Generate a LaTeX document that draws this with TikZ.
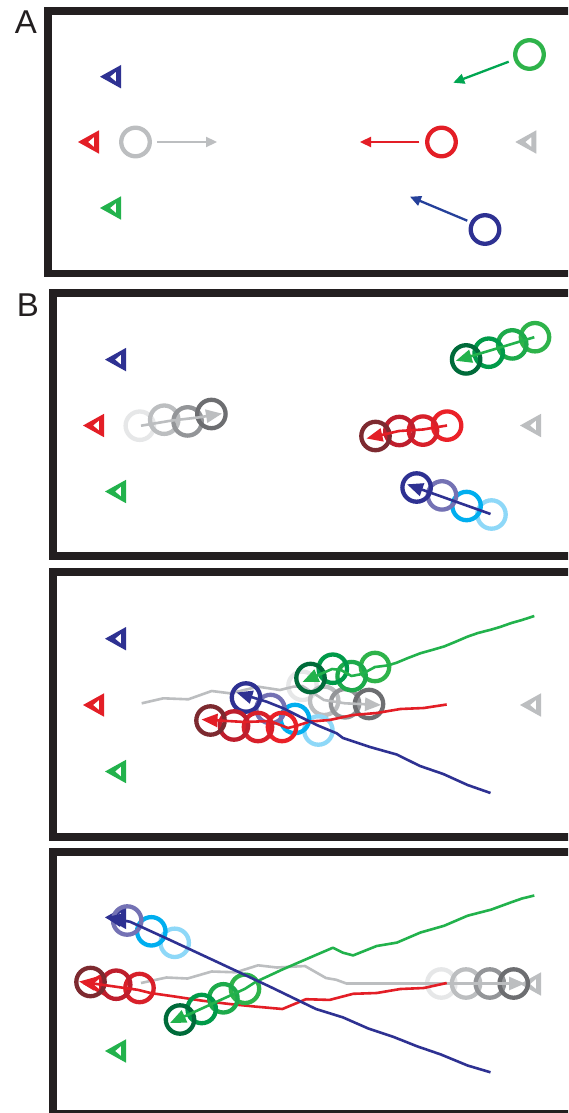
\documentclass[tikz,border=0pt]{standalone}
\usepackage{fontspec}
\setmainfont{Liberation Sans}
\usetikzlibrary{arrows.meta}
\definecolor{frameC}{HTML}{231F20}
\definecolor{navy}{HTML}{2E3192}
\definecolor{blueArr}{HTML}{25409A}
\definecolor{purp}{HTML}{7472B4}
\definecolor{cyanC}{HTML}{00AEEF}
\definecolor{ltblue}{HTML}{8ED8F8}
\definecolor{maroon}{HTML}{7D2A30}
\definecolor{redB}{HTML}{BE1E2D}
\definecolor{redC}{HTML}{D8202A}
\definecolor{redD}{HTML}{EB2128}
\definecolor{redL}{HTML}{E31E26}
\definecolor{grnA}{HTML}{006B3A}
\definecolor{grnB}{HTML}{009A49}
\definecolor{grnC}{HTML}{1DAA4B}
\definecolor{grnD}{HTML}{2EB34A}
\definecolor{grnArr}{HTML}{00A651}
\definecolor{grnS}{HTML}{22B24C}
\definecolor{gryA}{HTML}{E6E7E8}
\definecolor{gryB}{HTML}{BCBEC0}
\definecolor{gryC}{HTML}{939598}
\definecolor{gryD}{HTML}{6D6E71}
\newcommand\sens[3]{\begin{scope}[shift={(#1,#2)}]\fill[#3,even odd rule] (0,0) -- (21,-11.7) -- (21,11.7) -- cycle (10,0) -- (16,-5) -- (16,5) -- cycle;\end{scope}}
\tikzset{
  frame/.style={line width=7.5pt, draw=frameC},
  ring/.style={line width=4.3pt},
  trk/.style={line width=2.3pt, line join=round},
  arA/.style={line width=2.3pt, -{Triangle[length=11pt,width=10pt]}},
  arB/.style={line width=2.6pt, line join=round, -{Triangle[length=16pt,width=13pt]}},
  lbl/.style={font=\fontsize{33}{33}\selectfont, inner sep=0pt, anchor=base, text=frameC}
}
\begin{document}
\begin{tikzpicture}[x=1pt,y=-1pt]
\useasboundingbox (0,0) rectangle (568,1113);
\clip (0,0) rectangle (568,1113);
\fill[white] (0,0) rectangle (568,1113);

% labels
\node[lbl] (labA) at (26,33.3) {A};
\node[lbl] (labB) at (28,316.7) {B};

% frames
\draw[frame] (48,11) rectangle (640,273.7);
\draw[frame] (53,293) rectangle (640,556);
\draw[frame] (53,572) rectangle (640,837);
\draw[frame] (53,852) rectangle (640,1114);

% ---------------- Panel A
\sens{100}{76.7}{navy}
\sens{78}{142}{redL}
\sens{100}{208}{grnS}
\sens{515.3}{142}{gryB}
\draw[ring,gryB] (135.5,142) circle[radius=14.3pt];
\draw[arA,gryB] (157,142) -- (217,142);
\draw[ring,grnD] (529.5,54.5) circle[radius=14.3pt];
\draw[arA,grnArr] (508.7,61.7) -- (453.3,82.7);
\draw[ring,redL] (441.5,142) circle[radius=14.3pt];
\draw[arA,redL] (419.3,142) -- (360,142);
\draw[ring,navy] (485,229.5) circle[radius=14.3pt];
\draw[arA,blueArr] (467.3,220.7) -- (410,196.7);

% ---------------- Panel B1
\sens{105}{359.6}{navy}
\sens{83}{425.5}{redL}
\sens{105}{491.5}{grnS}
\sens{520}{425.5}{gryB}
% gray
\draw[ring,gryA] (139.8,425.7) circle[radius=14.2pt];
\draw[ring,gryB] (164.2,419.7) circle[radius=14.2pt];
\draw[ring,gryC] (187.6,421.4) circle[radius=14.2pt];
\draw[ring,gryD] (211.4,414) circle[radius=14.2pt];
\draw[arB,gryB] (141,425.7) -- (172,420.5) -- (198,417.5) -- (222,413.6);
% green
\draw[ring,grnD] (535,337.2) circle[radius=14.2pt];
\draw[ring,grnC] (512.2,344.4) circle[radius=14.2pt];
\draw[ring,grnB] (488.7,352.7) circle[radius=14.2pt];
\draw[ring,grnA] (466.1,359.4) circle[radius=14.2pt];
\draw[arB,grnS] (534.3,337.2) -- (455.8,360.8);
% red
\draw[ring,redD] (447.1,425.6) circle[radius=14.2pt];
\draw[ring,redC] (423,430.6) circle[radius=14.2pt];
\draw[ring,redB] (399.4,431) circle[radius=14.2pt];
\draw[ring,maroon] (375.5,436) circle[radius=14.2pt];
\draw[arB,redL] (447,425.5) -- (423,429.5) -- (399,431) -- (366.5,438.5);
% blue
\draw[ring,ltblue] (491.5,514.5) circle[radius=14.2pt];
\draw[ring,cyanC] (466.6,506) circle[radius=14.2pt];
\draw[ring,purp] (442,495.4) circle[radius=14.2pt];
\draw[ring,navy] (416.6,487.5) circle[radius=14.2pt];
\draw[arB,navy] (490.5,514) -- (407,484.3);

% ---------------- Panel B2
\sens{105}{638.7}{navy}
\sens{83}{705}{redL}
\sens{105}{771.5}{grnS}
\sens{520}{705}{gryB}
% gray
\draw[ring,gryA] (302.5,685.8) circle[radius=14.2pt];
\draw[ring,gryB] (324.2,700.8) circle[radius=14.2pt];
\draw[ring,gryC] (345,703.3) circle[radius=14.2pt];
\draw[ring,gryD] (369,704) circle[radius=14.2pt];
\draw[arB,gryB] (141.7,703.3) -- (163.3,698.3) -- (188.3,699.3) -- (211.7,691) -- (230,693.3) -- (258.3,686.7) -- (280,690) -- (293.3,686.7) -- (302.5,686) -- (324,700) -- (345,703.3) -- (381,705);
% green
\draw[ring,grnD] (375,667) circle[radius=14.2pt];
\draw[ring,grnC] (351.6,676.1) circle[radius=14.2pt];
\draw[ring,grnB] (332.8,668.7) circle[radius=14.2pt];
\draw[ring,grnA] (310.5,678) circle[radius=14.2pt];
\draw[arB,grnS] (534.3,616) -- (522,620) -- (511.4,623) -- (500,627) -- (491.2,629.6) -- (478,633) -- (467.6,636.6) -- (455,642) -- (444,646.5) -- (432,650) -- (420.5,653.2) -- (408,658) -- (396.9,662.6) -- (388.5,665.3) -- (375,667) -- (362,674) -- (351.5,676) -- (341,670) -- (332,669) -- (302.5,682);
% blue circles
\draw[ring,ltblue] (318.4,730.5) circle[radius=14.2pt];
\draw[ring,cyanC] (295,719) circle[radius=14.2pt];
\draw[ring,purp] (270.5,709) circle[radius=14.2pt];
\draw[ring,navy] (246,697.5) circle[radius=14.2pt];
% red
\draw[ring,redD] (282,727) circle[radius=14.2pt];
\draw[ring,redC] (258,727) circle[radius=14.2pt];
\draw[ring,redB] (234,725.5) circle[radius=14.2pt];
\draw[ring,maroon] (210.5,720.5) circle[radius=14.2pt];
\draw[arB,redL] (446.7,704.5) -- (423.8,708) -- (400.3,709) -- (376.7,713) -- (353,715) -- (329.6,720) -- (309.4,721.6) -- (296,726) -- (288,728) -- (270,721) -- (245,722) -- (201.5,719.5);
% blue line
\draw[arB,navy] (490.5,793) -- (467.6,785) -- (443.3,774) -- (420,766) -- (396.7,754.5) -- (370,747) -- (343,738) -- (336.7,733.3) -- (316.7,725) -- (300,716.7) -- (283.3,708.3) -- (266.7,701.7) -- (236.5,692.5);

% ---------------- Panel B3
\sens{105}{917.4}{navy}
\sens{83}{984}{redL}
\sens{105}{1051}{grnS}
\sens{520}{984}{gryB}
% gray
\draw[ring,gryA] (441.3,983.5) circle[radius=14.2pt];
\draw[ring,gryB] (466,983.5) circle[radius=14.2pt];
\draw[ring,gryC] (489.8,983.5) circle[radius=14.2pt];
\draw[ring,gryD] (513.7,983.5) circle[radius=14.2pt];
\draw[arB,gryB] (141,983) -- (166.5,977.5) -- (187.5,978.5) -- (211.7,971.5) -- (236,972.3) -- (258,965.3) -- (277,967.5) -- (305,966) -- (326,978) -- (336,979.7) -- (346.4,983.5) -- (525,983.5);
% red
\draw[ring,redC] (139.5,988) circle[radius=14.2pt];
\draw[ring,redB] (116.2,984.7) circle[radius=14.2pt];
\draw[ring,maroon] (90.5,982) circle[radius=14.2pt];
\draw[arB,redL] (446.7,983) -- (423.8,988) -- (400.3,989) -- (376.7,993) -- (353.1,993.8) -- (329.6,999.9) -- (306,999.2) -- (282.4,1009) -- (255.5,1006.6) -- (228.6,1003.9) -- (201.6,1000.6) -- (174.7,996.5) -- (151.1,993.1) -- (137.6,989.8) -- (79,981.5);
% green
\draw[ring,grnD] (245,988.8) circle[radius=14.2pt];
\draw[ring,grnC] (223.4,998.3) circle[radius=14.2pt];
\draw[ring,grnB] (201.7,1009) circle[radius=14.2pt];
\draw[ring,grnA] (180,1019.5) circle[radius=14.2pt];
\draw[arB,grnS] (534.3,895.5) -- (522,898.5) -- (511.4,902.2) -- (491.2,909.6) -- (467.6,915.7) -- (444,925.8) -- (420.5,932.5) -- (396.9,942.6) -- (376.7,946) -- (353.1,955.4) -- (343,952.7) -- (332.9,947.7) -- (309.4,957.8) -- (282.4,969.5) -- (255.5,982) -- (245,988.8) -- (170,1023);
% blue
\draw[ring,ltblue] (174.7,942.8) circle[radius=14.2pt];
\draw[ring,cyanC] (151.3,931.3) circle[radius=14.2pt];
\draw[ring,purp] (127.2,920.5) circle[radius=14.2pt];
\draw[arB,navy] (490.5,1072.3) -- (467.6,1065.5) -- (440.7,1054.4) -- (417.1,1046.3) -- (393.5,1036.9) -- (368.3,1028.5) -- (343,1017.4) -- (316,1009) -- (270,986.7) -- (220,963.3) -- (170,940) -- (130,921.7) -- (105.5,917.4);
\end{tikzpicture}
\end{document}
